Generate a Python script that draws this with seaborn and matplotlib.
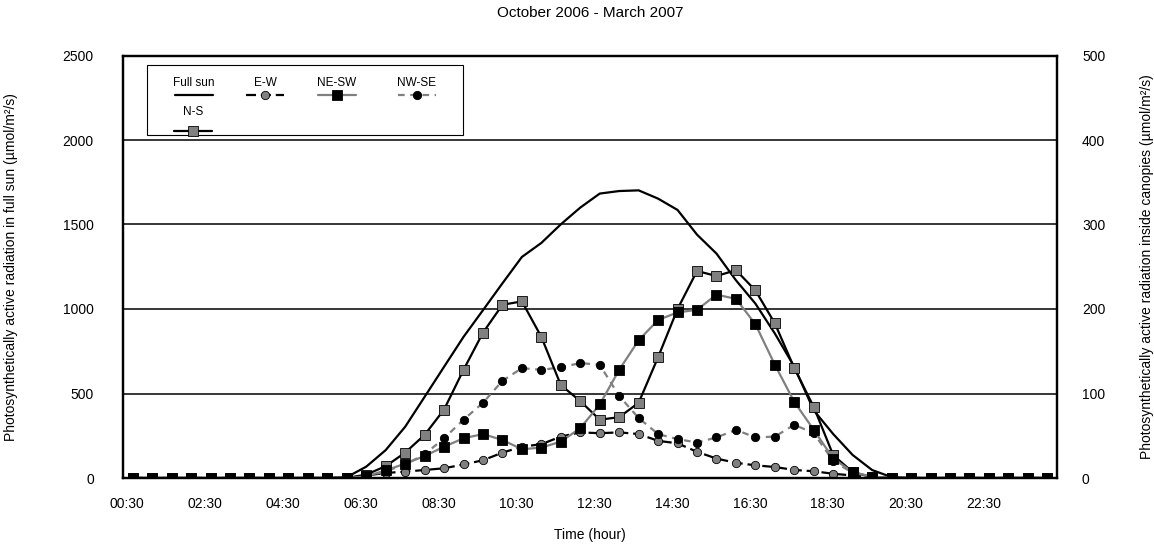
import numpy as np
import pandas as pd
import seaborn as sns
import matplotlib
matplotlib.use('Agg')
import matplotlib.pyplot as plt
from matplotlib.lines import Line2D
from matplotlib.patches import Rectangle

# half-hour steps, index 0 = 00:30 ... index 47 = 24:00
full_sun = [0, 0, 0, 0, 0, 0, 0, 0, 0, 0, 0, 5,
            67, 165, 303, 480, 658, 835, 993, 1152, 1308, 1391, 1501, 1600,
            1683, 1698, 1702, 1653, 1586, 1440, 1328, 1170, 1032, 855, 658, 400,
            260, 136, 47, 5, 0, 0, 0, 0, 0, 0, 0, 0]
ew = [0, 0, 0, 0, 0, 0, 0, 0, 0, 0, 0, 0,
      3, 6, 7.5, 9.5, 11.5, 16, 21, 30, 37, 40, 49, 54,
      53, 54, 52, 44, 41, 31, 23, 18, 15, 13, 9.5, 8,
      5, 3, 0.5, 0, 0, 0, 0, 0, 0, 0, 0, 0]
ne_sw = [0, 0, 0, 0, 0, 0, 0, 0, 0, 0, 0, 0,
         2, 9, 17, 26, 37, 47, 52, 45, 34, 36, 43, 59,
         87, 128, 163, 187, 196, 199, 217, 212, 182, 134, 90, 57,
         23, 7, 1.5, 0, 0, 0, 0, 0, 0, 0, 0, 0]
nw_se = [0, 0, 0, 0, 0, 0, 0, 0, 0, 0, 0, 0,
         2, 8, 16, 28, 47, 69, 89, 115, 130, 128, 131, 136,
         134, 97, 71, 52, 46, 42, 48, 57, 48, 49, 63, 53,
         20, 6, 1, 0, 0, 0, 0, 0, 0, 0, 0, 0]
ns = [0, 0, 0, 0, 0, 0, 0, 0, 0, 0, 0, 0,
      4, 14, 30, 51, 81, 128, 172, 205, 209, 167, 110, 91,
      69, 72, 89, 143, 200, 245, 239, 246, 222, 183, 130, 84,
      27, 7, 1, 0, 0, 0, 0, 0, 0, 0, 0, 0]
tick_labels = ["00:30", "02:30", "04:30", "06:30", "08:30", "10:30",
               "12:30", "14:30", "16:30", "18:30", "20:30", "22:30"]

df = pd.DataFrame({"step": np.arange(len(full_sun)), "Full sun": full_sun,
                   "E-W": ew, "NE-SW": ne_sw, "NW-SE": nw_se, "N-S": ns})

sns.set_style("white")
plt.rcParams['font.family'] = ['Liberation Sans', 'DejaVu Sans']
plt.rcParams.update({'text.color': 'black', 'axes.labelcolor': 'black',
                     'xtick.color': 'black', 'ytick.color': 'black'})

fig = plt.figure(figsize=(11.54, 5.44), dpi=100)
ax = fig.add_axes([123/1154, 66/544, 934/1154, 422.5/544])
ax2 = ax.twinx()

GRAY = "#808080"
# series styles: (column, axis, line colour, linestyle, marker, face colour)
styles = [
    ("Full sun", ax, "black", "-", None, None),
    ("E-W", ax2, "black", (0, (4.5, 2.2)), "o", GRAY),
    ("NW-SE", ax2, GRAY, (0, (3, 2.5)), "o", "black"),
    ("N-S", ax2, "black", "-", "s", GRAY),
    ("NE-SW", ax2, GRAY, "-", "s", "black"),
]
for col, a, lc, ls, mk, fc in styles:
    kw = dict(color=lc, linestyle=ls, linewidth=1.6)
    if mk:
        kw.update(marker=mk, markerfacecolor=fc, markeredgecolor="black",
                  markeredgewidth=0.6, markersize=6.5 if mk == "s" else 6)
    sns.lineplot(data=df, x="step", y=col, ax=a, legend=False, **kw)

ax.set_xlim(-0.5, 47.5)
ax.set_ylim(0, 2500)
ax2.set_ylim(0, 500)
ax.set_yticks(range(0, 2501, 500))
ax2.set_yticks(range(0, 501, 100))
ax.set_xticks(np.arange(len(tick_labels)) * 4 - 0.28)
ax.set_xticklabels(tick_labels)
for v in range(500, 2500, 500):
    ax.axhline(v, color="black", lw=1.1, zorder=0)

ax.tick_params(axis="x", length=0, pad=14, labelsize=10)
ax.tick_params(axis="y", length=0, pad=21, labelsize=10)
ax2.tick_params(axis="y", length=0, pad=18, labelsize=10)
for a in (ax, ax2):
    for s in a.spines.values():
        s.set_color("black")
        s.set_linewidth(1.6)

ax.set_xlabel("Time (hour)", fontsize=10)
ax.xaxis.set_label_coords(0.5, -0.118)
ax.set_ylabel("Photosynthetically active radiation in full sun (µmol/m²/s)", fontsize=10)
ax.yaxis.set_label_coords(-0.112, 0.5)
ax2.set_ylabel("Photosynthetically active radiation inside canopies (µmol/m²/s)", fontsize=10)
ax2.yaxis.set_label_coords(1.089, 0.5)

fig.text(590/1154, 1 - 13/544, "October 2006 - March 2007", ha="center", va="center", fontsize=11)

# hand-built legend box (labels above their keys)
def fx(px):
    return px / 1154

def fy(py):
    return 1 - py / 544

fig.patches.append(Rectangle((fx(147), fy(135)), fx(463) - fx(147), fy(65) - fy(135),
                             transform=fig.transFigure, fill=True, facecolor="white",
                             edgecolor="black", lw=0.8, zorder=5))
entries = [("Full sun", 194, 83, 95), ("E-W", 265, 83, 95), ("NE-SW", 337, 83, 95),
           ("NW-SE", 417, 83, 95), ("N-S", 193, 112, 131)]
style_map = {s[0]: s for s in styles}
for name, cx, ty, ly in entries:
    fig.text(fx(cx), fy(ty), name, ha="center", va="center", fontsize=8.5, zorder=6)
    _, _, lc, ls, mk, fc = style_map[name]
    ln = Line2D([fx(cx - 19), fx(cx + 19)], [fy(ly), fy(ly)], transform=fig.transFigure,
                color=lc, linestyle=ls, linewidth=1.6, zorder=6)
    fig.lines.append(ln)
    if mk:
        fig.lines.append(Line2D([fx(cx)], [fy(ly)], transform=fig.transFigure, marker=mk,
                                markerfacecolor=fc, markeredgecolor="black", markeredgewidth=0.6,
                                markersize=6.5 if mk == "s" else 6, linestyle="none", zorder=7))

fig.savefig("out.png", dpi=100)
